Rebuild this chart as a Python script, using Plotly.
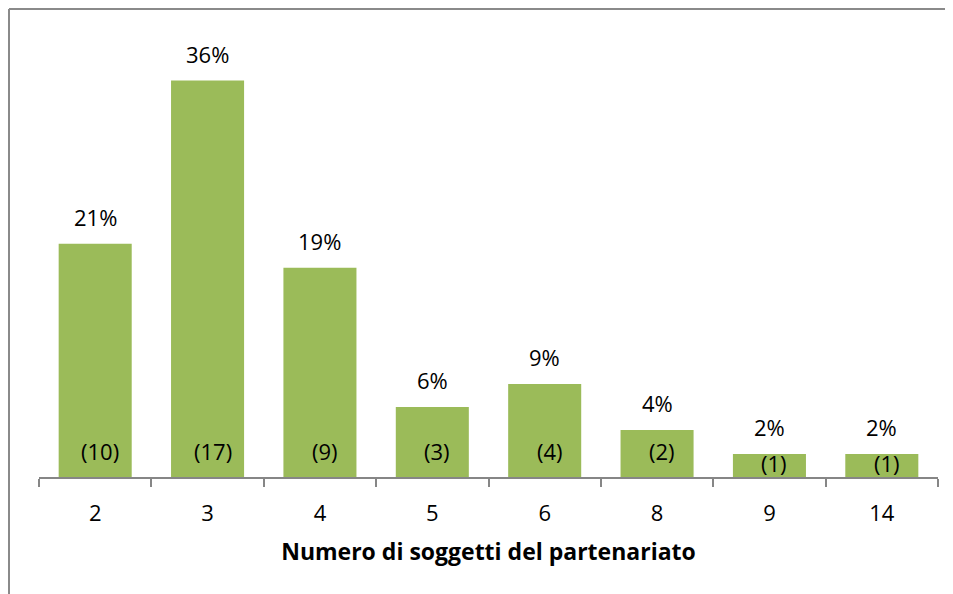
import plotly.graph_objects as go

categories = ["2", "3", "4", "5", "6", "8", "9", "14"]
percentages = [21.3, 36.2, 19.1, 6.4, 8.5, 4.3, 2.1, 2.1]
pct_labels = ["21%", "36%", "19%", "6%", "9%", "4%", "2%", "2%"]
counts = [10, 17, 9, 3, 4, 2, 1, 1]

FONT = "'Open Sans', Lato, sans-serif"
fig = go.Figure()
fig.add_trace(go.Bar(
    x=categories, y=percentages,
    marker=dict(color="#9BBB59", line=dict(width=0)),
    hoverinfo="skip",
))

annotations = []
for i, (v, pl, n) in enumerate(zip(percentages, pct_labels, counts)):
    annotations.append(dict(x=i, y=v, xref="x", yref="y", text=pl, showarrow=False,
                            yanchor="middle", yshift=27,
                            font=dict(family=FONT, size=22, color="#000")))
    small = v < 3
    annotations.append(dict(x=i, y=0, xref="x", yref="y", text=f"({n})", showarrow=False,
                            yanchor="middle", yshift=14 if small else 26,
                            xshift=5,
                            font=dict(family=FONT, size=22, color="#000")))

# page body has an 8px margin: the figure is sized/offset to compensate
fig.update_layout(
    width=945, height=586,
    margin=dict(l=31, r=15, t=32, b=117),
    paper_bgcolor="white", plot_bgcolor="white",
    bargap=0.35,
    showlegend=False,
    annotations=annotations,
    font=dict(family=FONT, size=22, color="#000"),
    xaxis=dict(
        type="category",
        showline=True, linecolor="#868686", linewidth=1.5,
        ticks="outside", tickson="boundaries", ticklen=8, tickcolor="#868686", tickwidth=1.5,
        tickfont=dict(family=FONT, size=22, color="#000"),
        ticklabelstandoff=16,
        showgrid=False, zeroline=False,
        title=dict(text="<b>Numero di soggetti del partenariato</b>",
                   font=dict(family=FONT, size=23, color="#000"), standoff=18),
    ),
    yaxis=dict(range=[0, 39.9], visible=False, showgrid=False, zeroline=False),
    shapes=[
        dict(type="line", xref="paper", yref="paper", x0=-30/899, x1=1.5, y0=1 + 31/437, y1=1 + 31/437,
             line=dict(color="#8a8a8a", width=2)),
        dict(type="line", xref="paper", yref="paper", x0=-30/899, x1=-30/899, y0=-0.5, y1=1 + 31/437,
             line=dict(color="#8a8a8a", width=2)),
    ],
)

fig.write_html("out.html")
